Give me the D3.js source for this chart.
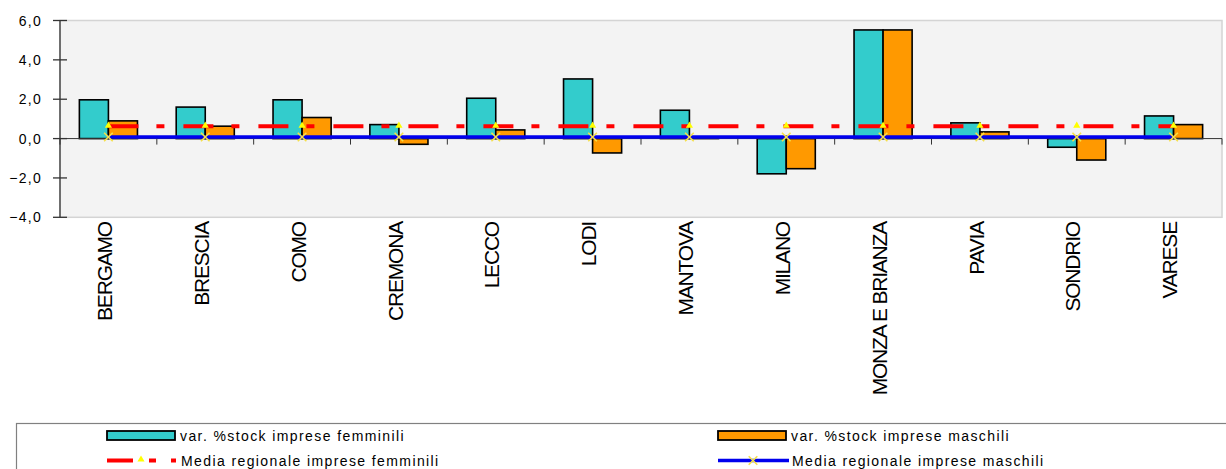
<!DOCTYPE html>
<html>
<head>
<meta charset="utf-8">
<script src="https://cdn.jsdelivr.net/npm/d3@7"></script>
<style>
  body { margin: 0; background: #fff; }
  text { font-family: Arial, "Liberation Sans", sans-serif; fill: #000; }
</style>
</head>
<body>
<svg id="chart" width="1226" height="469"></svg>
<script>
// province lombarde
var province = ['BERGAMO', 'BRESCIA', 'COMO', 'CREMONA', 'LECCO', 'LODI',
    'MANTOVA', 'MILANO', 'MONZA E BRIANZA', 'PAVIA', 'SONDRIO', 'VARESE'];
var varFemminili = [1.97, 1.6, 1.97, 0.71, 2.05, 3.03, 1.44, -1.79, 5.52, 0.8, -0.44, 1.15];
var varMaschili = [0.9, 0.63, 1.07, -0.29, 0.44, -0.73, 0.05, -1.53, 5.52, 0.34, -1.09, 0.71];
var mediaFemminili = province.map(function () { return 0.63; });
var mediaMaschili = province.map(function () { return 0.08; });
var yTicks = [-4, -2, 0, 2, 4, 6];

var svg = d3.select('#chart');
var plot = { l: 60, r: 1222, t: 20.5, b: 217.3 };

var x = d3.scaleBand().domain(province).range([plot.l, plot.r]).padding(0);
var x1 = d3.scaleBand().domain(['f', 'm']).range([0, x.bandwidth()])
    .paddingInner(0).paddingOuter(0.667);
var y = d3.scaleLinear().domain([-4, 6]).range([plot.b, plot.t]);
var cx = function (p) { return x(p) + x.bandwidth() / 2; };

// area del grafico
svg.append('rect')
    .attr('x', plot.l).attr('y', plot.t)
    .attr('width', plot.r - plot.l).attr('height', plot.b - plot.t)
    .style('fill', '#f3f3f3')
    .style('stroke', '#d4d4d4')
    .style('stroke-width', 1.5);

// asse y
svg.append('line')
    .attr('x1', plot.l).attr('x2', plot.l)
    .attr('y1', plot.t).attr('y2', plot.b)
    .style('stroke', '#333').style('stroke-width', 1.3);

var fmt = function (v) { return d3.format('.1f')(v).replace('.', ','); };
svg.selectAll('.ytick')
    .data(yTicks)
    .enter()
    .append('line')
    .attr('x1', plot.l - 7).attr('x2', plot.l + 7)
    .attr('y1', function (d) { return y(d); })
    .attr('y2', function (d) { return y(d); })
    .style('stroke', '#333').style('stroke-width', 1.3);

svg.selectAll('.ylabel')
    .data(yTicks)
    .enter()
    .append('text')
    .attr('x', 42)
    .attr('y', function (d) { return y(d); })
    .attr('dy', '0.36em')
    .style('text-anchor', 'end')
    .style('font-size', '14px')
    .style('letter-spacing', '1.3px')
    .text(fmt);

// barre
var series = [
    { key: 'f', values: varFemminili, color: '#33cccc' },
    { key: 'm', values: varMaschili, color: '#ff9900' }
];
series.forEach(function (s) {
    svg.selectAll('.bar-' + s.key)
        .data(province)
        .enter()
        .append('rect')
        .attr('class', 'bar-' + s.key)
        .attr('x', function (p) { return x(p) + x1(s.key); })
        .attr('width', x1.bandwidth())
        .attr('y', function (p, i) { return y(Math.max(0, s.values[i])); })
        .attr('height', function (p, i) { return Math.abs(y(s.values[i]) - y(0)); })
        .style('fill', s.color)
        .style('stroke', '#000')
        .style('stroke-width', 1.6);
});

// asse categorie sullo zero
svg.append('line')
    .attr('x1', plot.l).attr('x2', plot.r)
    .attr('y1', y(0)).attr('y2', y(0))
    .style('stroke', '#333').style('stroke-width', 1);
svg.selectAll('.xtick')
    .data(province.concat(['__end']))
    .enter()
    .append('line')
    .attr('x1', function (p, i) { return plot.l + i * x.step(); })
    .attr('x2', function (p, i) { return plot.l + i * x.step(); })
    .attr('y1', y(0)).attr('y2', y(0) + 6)
    .style('stroke', '#333').style('stroke-width', 1);

// linee medie regionali
var lineF = d3.line().x(function (d, i) { return cx(province[i]); }).y(function (d) { return y(d); });
svg.append('path')
    .datum(mediaFemminili)
    .attr('d', lineF)
    .style('fill', 'none')
    .style('stroke', '#ff0000')
    .style('stroke-width', 4)
    .style('stroke-dasharray', '30,18,8,19');

svg.append('path')
    .datum(mediaMaschili)
    .attr('d', lineF)
    .style('fill', 'none')
    .style('stroke', '#0000ee')
    .style('stroke-width', 3.6);

svg.selectAll('.tri')
    .data(mediaFemminili)
    .enter()
    .append('path')
    .attr('d', d3.symbol(d3.symbolTriangle, 22))
    .attr('transform', function (d, i) { return 'translate(' + [cx(province[i]), y(d) - 0.5] + ')'; })
    .style('fill', '#ffff00');

svg.selectAll('.cross')
    .data(mediaMaschili)
    .enter()
    .append('path')
    .attr('d', d3.symbol(d3.symbolTimes, 50))
    .attr('transform', function (d, i) { return 'translate(' + [cx(province[i]), y(d)] + ')'; })
    .style('fill', 'none')
    .style('stroke', '#f5e04a')
    .style('stroke-width', 1.6);

// etichette province
svg.selectAll('.xlabel')
    .data(province)
    .enter()
    .append('text')
    .attr('transform', function (p) { return 'translate(' + [cx(p) + 3.7, 222] + ') rotate(-90)'; })
    .style('text-anchor', 'end')
    .style('font-size', '21px')
    .style('letter-spacing', '-1.2px')
    .text(function (p) { return p; });

// legenda
svg.append('rect')
    .attr('x', 16.5).attr('y', 423.5)
    .attr('width', 1300).attr('height', 100)
    .style('fill', '#fff')
    .style('stroke', '#808080')
    .style('stroke-width', 1.2);

var legend = [
    { label: 'var. %stock imprese femminili', type: 'bar', color: '#33cccc', lx: 107, ly: 0 },
    { label: 'var. %stock imprese maschili', type: 'bar', color: '#ff9900', lx: 718, ly: 0 },
    { label: 'Media regionale imprese femminili', type: 'dash', color: '#ff0000', lx: 107, ly: 1 },
    { label: 'Media regionale imprese maschili', type: 'line', color: '#0000ee', lx: 718, ly: 1 }
];
legend.forEach(function (d) {
    var g = svg.append('g').attr('transform', 'translate(' + [d.lx, 435.5 + d.ly * 25] + ')');
    if (d.type === 'bar') {
        g.append('rect')
            .attr('x', 0).attr('y', -4.5).attr('width', 68).attr('height', 9)
            .style('fill', d.color).style('stroke', '#000').style('stroke-width', 1.8);
    } else if (d.type === 'dash') {
        g.append('line')
            .attr('x1', 0).attr('x2', 69).attr('y1', 0).attr('y2', 0)
            .style('stroke', d.color).style('stroke-width', 4)
            .style('stroke-dasharray', '26,16,7,15');
        g.append('path')
            .attr('d', d3.symbol(d3.symbolTriangle, 22))
            .attr('transform', 'translate(34,-1)')
            .style('fill', '#ffff00');
    } else {
        g.append('line')
            .attr('x1', 0).attr('x2', 71).attr('y1', 0).attr('y2', 0)
            .style('stroke', d.color).style('stroke-width', 3.6);
        g.append('path')
            .attr('d', d3.symbol(d3.symbolTimes, 50))
            .attr('transform', 'translate(35,0)')
            .style('fill', 'none').style('stroke', '#f5e04a').style('stroke-width', 1.6);
    }
    g.append('text')
        .attr('x', d.type === 'bar' ? 73 : 74)
        .attr('y', 5)
        .style('font-size', '14px')
        .style('letter-spacing', '1.4px')
        .text(d.label);
});
</script>
</body>
</html>
